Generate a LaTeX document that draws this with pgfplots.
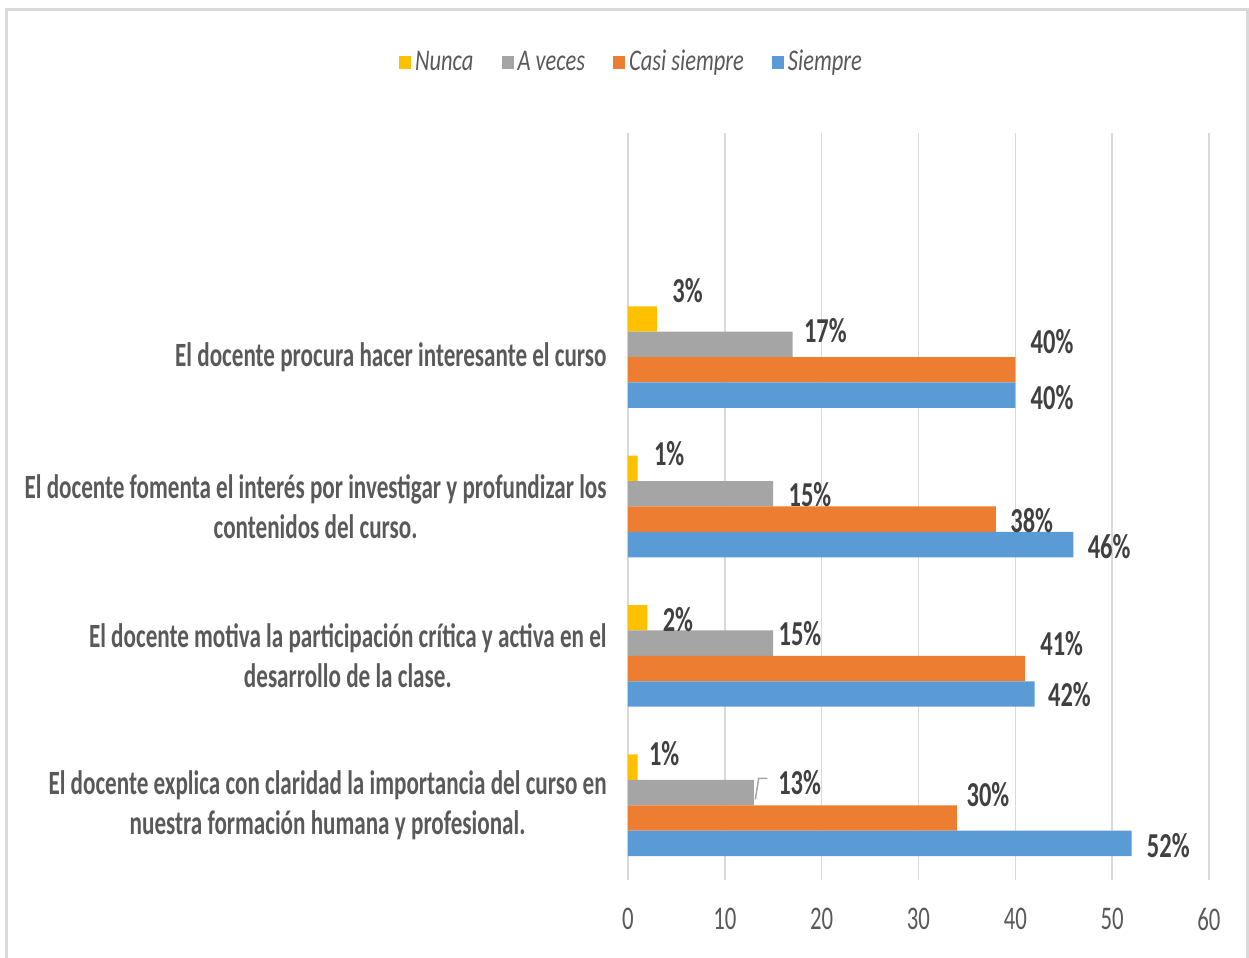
\documentclass[border=0pt]{standalone}
\usepackage{fontspec}
\usepackage{pgfplots}
\usepackage{pgfplotstable}
\pgfplotsset{compat=1.18}
\newfontfamily\catfamily{Carlito Bold}[FakeStretch=0.68]
\newfontfamily\labfamily{Carlito Bold}[FakeStretch=0.7]
\newfontfamily\tickfamily{Carlito}[FakeStretch=0.69]
\newfontfamily\legfamily{Carlito Italic}[FakeStretch=0.75]
\newcommand\catfont{\catfamily\fontsize{17}{20}\selectfont}
\newcommand\labfont{\labfamily\fontsize{17.5}{20}\selectfont}
\newcommand\tickfont{\tickfamily\fontsize{16.5}{19}\selectfont}
\newcommand\legfont{\legfamily\fontsize{15}{18}\selectfont}
\definecolor{cnunca}{HTML}{FFC000}
\definecolor{caveces}{HTML}{A5A5A5}
\definecolor{ccasi}{HTML}{ED7D31}
\definecolor{csiempre}{HTML}{5B9BD5}
\definecolor{ctxt}{HTML}{595959}
\definecolor{clab}{HTML}{404040}
\definecolor{cgrid}{HTML}{D9D9D9}

\pgfplotstableread{
y x lab dx dy
4 3 3 7.5 33.05
3 1 1 8 26.55
2 2 2 7.5 18.05
1 1 1 5.5 26.05
}\nunca
\pgfplotstableread{
y x lab dx dy
4 17 17 5.5 13.35
3 15 15 7.5 5.85
2 15 15 2.5 11.35
1 13 13 12 11.35
}\aveces
\pgfplotstableread{
y x lab dx dy
4 40 40 7.5 7.65
3 38 38 7 -6.85
2 41 41 7.5 6.15
1 34 30 4.5 5.15
}\casi
\pgfplotstableread{
y x lab dx dy
4 40 40 7.5 -20.05
3 46 46 7 -20.05
2 42 42 6.5 -19.55
1 52 52 7.5 -20.05
}\siempre

\begin{document}
\begin{tikzpicture}
\path[use as bounding box] (-314pt,-39pt) rectangle (310.5pt,440pt);
\draw[cgrid, line width=1.5pt] (-310.5pt,-50pt) -- (-310.5pt,435.25pt) -- (309.5pt,435.25pt) -- (309.5pt,-50pt);
\begin{axis}[
  name=ax,
  scale only axis,
  width=290.5pt, height=373.5pt,
  xmin=0, xmax=60, ymin=0.5, ymax=5.5,
  xtick={0,10,...,60},
  ytick={1,2,3,4},
  yticklabels={{El docente explica con claridad la importancia del curso en\\nuestra formación humana y profesional.},
               {El docente motiva la participación crítica y activa en el\\desarrollo de la clase.},
               {El docente fomenta el interés por investigar y profundizar los\\contenidos del curso.},
               {El docente procura hacer interesante el curso}},
  yticklabel style={align=center, font=\catfont, text=ctxt, inner sep=0pt, xshift=-10.5pt},
  xticklabel style={font=\tickfont, text=ctxt, anchor=north, inner sep=0pt, yshift=-14pt},
  /pgf/number format/assume math mode=true,
  axis line style={draw=none},
  major tick length=0pt,
  tick style={draw=none},
  xmajorgrids,
  grid style={cgrid, line width=0.75pt},
  point meta=explicit symbolic,
  visualization depends on={\thisrow{dx} \as \dx},
  visualization depends on={\thisrow{dy} \as \dy},
  nodes near coords={\pgfplotspointmeta\%},
  nodes near coords style={anchor=west, inner sep=0pt, xshift=\dx pt, yshift=\dy pt, font=\labfont, text=clab},
  bar width=0.17,
  legend style={at={(0.0077,1.095)}, anchor=center, draw=none, fill=none,
    legend columns=-1, font=\legfont, text=ctxt,
    /tikz/every even column/.append style={column sep=12pt}},
  legend image code/.code={\fill[#1] (0pt,-3.25pt) rectangle (6pt,3.25pt);},
]
\addplot[xbar, bar shift=0.255, fill=cnunca, draw=none] table[x=x,y=y,meta=lab]{\nunca};
\addlegendentry{Nunca}
\addplot[xbar, bar shift=0.085, fill=caveces, draw=none] table[x=x,y=y,meta=lab]{\aveces};
\addlegendentry{A veces}
\addplot[xbar, bar shift=-0.085, fill=ccasi, draw=none] table[x=x,y=y,meta=lab]{\casi};
\addlegendentry{Casi siempre}
\addplot[xbar, bar shift=-0.255, fill=csiempre, draw=none] table[x=x,y=y,meta=lab]{\siempre};
\addlegendentry{Siempre}
\draw[caveces, line width=0.75pt] (axis cs:13.15,1.04) -- (axis cs:13.5,1.18) -- (axis cs:14.4,1.18);
\end{axis}
\end{tikzpicture}
\end{document}
